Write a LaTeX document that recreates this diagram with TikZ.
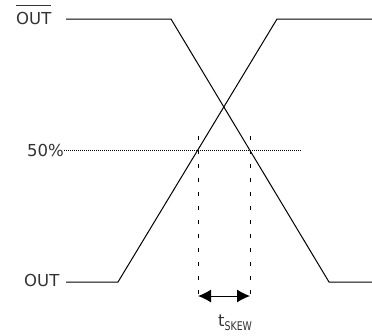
\documentclass[tikz,border=0pt]{standalone}
\usepackage{fontspec}
\setmainfont{DejaVu Sans}
\usetikzlibrary{arrows.meta}
\newcommand{\barredtext}[1]{\setbox0\hbox{#1}\rlap{\rule[\dimexpr\ht0+6pt\relax]{\wd0}{0.8pt}}\box0}
\definecolor{labelgray}{HTML}{333333}
\begin{document}
\begin{tikzpicture}[x=1pt,y=-1pt,
  signal/.style={line width=1pt,black},
  guide/.style={line width=1pt,dash pattern=on 1pt off 1pt},
  vguide/.style={line width=1pt,dash pattern=on 4pt off 10pt},
  lbl/.style={inner sep=0pt,text=labelgray,font=\fontsize{16.5}{18}\selectfont},
  skewarrow/.style={line width=1pt,{Latex[length=13pt,width=13pt]}-{Latex[length=13pt,width=13pt]}}]
\useasboundingbox (0,0) rectangle (372,335);
% labels
\node[lbl,anchor=base west] (outbar) at (16,24) {\barredtext{OUT}};
\node[lbl,anchor=base west] (out) at (24,286) {OUT};
\node[lbl,anchor=base west] (fifty) at (27,156) {50\%};
% signal corner coordinates
\coordinate (a0) at (66,19);
\coordinate (a1) at (171,19);
\coordinate (a2) at (329,282);
\coordinate (a3) at (372,282);
\coordinate (b0) at (66,282);
\coordinate (b1) at (118,282);
\coordinate (b2) at (277,19);
\coordinate (b3) at (372,19);
\draw[signal] (a0) -- (a1) -- (a2) -- (a3);
\draw[signal] (b0) -- (b1) -- (b2) -- (b3);
% 50% line
\coordinate (h0) at (64,150);
\coordinate (h1) at (302,150);
\draw[guide] (h0) -- (h1);
% vertical guides
\coordinate (v1t) at (198,136);
\coordinate (v1b) at (198,303);
\coordinate (v2t) at (250,136);
\coordinate (v2b) at (250,303);
\draw[vguide] (v1t) -- (v1b);
\draw[vguide] (v2t) -- (v2b);
% skew arrow
\coordinate (s1) at (198,296);
\coordinate (s2) at (250,296);
\draw[skewarrow] (s1) -- (s2);
\node[lbl,anchor=base west] (tskew) at (218,326) {t\raisebox{-4pt}{\scalebox{0.78}[1]{\fontsize{12}{14}\selectfont SKEW}}};
\end{tikzpicture}
\end{document}
